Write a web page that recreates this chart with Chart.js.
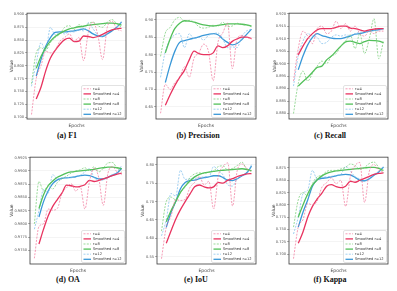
<!DOCTYPE html>
<html><head><meta charset="utf-8">
<script src="https://cdn.jsdelivr.net/npm/chart.js@4.4.0/dist/chart.umd.min.js"></script>
<style>
html,body{margin:0;padding:0;background:#fff;}
body{width:397px;height:291px;position:relative;overflow:hidden;}
canvas{position:absolute;}
.cap{position:absolute;font:bold 8px "Liberation Serif","DejaVu Serif",serif;color:#111;text-align:center;width:132px;line-height:10px;white-space:nowrap;}
</style></head><body>
<script>
const EPOCHS = [1,2,3,4,5,6,7,8,9,10,11,12,13,14,15,16,17,18,19,20];
const SERIES_LABELS = ['r=4','Smoothed r=4','r=8','Smoothed r=8','r=12','Smoothed r=12'];

const F1_TICKS = ['0.700','0.725','0.750','0.775','0.800','0.825','0.850','0.875','0.900'];
const F1_R4  = [0.705,0.775,0.800,0.828,0.825,0.830,0.848,0.855,0.862,0.848,0.855,0.810,0.865,0.885,0.860,0.812,0.875,0.887,0.872,0.868];
const F1_S4  = [null,0.735,0.758,0.790,0.815,0.830,0.842,0.851,0.854,0.847,0.848,0.858,0.857,0.855,0.857,0.861,0.866,0.870,0.872,0.873];
const F1_R8  = [0.765,0.825,0.835,0.830,0.845,0.855,0.862,0.875,0.878,0.870,0.880,0.876,0.882,0.885,0.878,0.875,0.885,0.890,0.882,0.875];
const F1_S8  = [null,0.795,0.818,0.835,0.848,0.857,0.863,0.868,0.872,0.874,0.876,0.877,0.879,0.880,0.881,0.882,0.883,0.883,0.882,0.879];
const F1_R12 = [0.760,0.805,0.845,0.830,0.875,0.860,0.865,0.862,0.866,0.866,0.870,0.868,0.884,0.872,0.860,0.857,0.865,0.870,0.875,0.887];
const F1_S12 = [null,0.780,0.812,0.838,0.855,0.865,0.866,0.866,0.867,0.868,0.870,0.872,0.868,0.862,0.858,0.857,0.862,0.868,0.875,0.885];

const P_TICKS = ['0.65','0.70','0.75','0.80','0.85','0.90'];
const P_R4  = [0.632,0.715,0.700,0.720,0.735,0.765,0.735,0.790,0.805,0.830,0.810,0.725,0.835,0.862,0.890,0.760,0.845,0.855,0.850,0.845];
const P_S4  = [null,0.655,0.685,0.712,0.735,0.755,0.785,0.810,0.803,0.800,0.800,0.805,0.825,0.820,0.825,0.838,0.845,0.850,0.850,0.846];
const P_R8  = [0.795,0.862,0.878,0.900,0.907,0.895,0.898,0.893,0.880,0.876,0.878,0.884,0.882,0.893,0.880,0.882,0.890,0.886,0.884,0.880];
const P_S8  = [null,0.805,0.845,0.875,0.890,0.897,0.896,0.893,0.889,0.885,0.883,0.882,0.884,0.886,0.888,0.888,0.888,0.887,0.885,0.882];
const P_R12 = [0.735,0.810,0.842,0.857,0.860,0.820,0.860,0.845,0.850,0.842,0.855,0.860,0.862,0.845,0.820,0.822,0.820,0.852,0.868,0.872];
const P_S12 = [null,0.720,0.770,0.810,0.835,0.840,0.844,0.847,0.851,0.855,0.858,0.860,0.857,0.845,0.835,0.828,0.832,0.843,0.858,0.873];

const R_TICKS = ['0.880','0.885','0.890','0.895','0.900','0.905','0.910','0.915','0.920'];
const R_R4  = [0.893,0.906,0.913,0.911,0.908,0.914,0.915,0.912,0.913,0.917,0.914,0.916,0.913,0.915,0.912,0.911,0.913,0.912,0.913,0.913];
const R_S4  = [null,0.9035,0.907,0.910,0.912,0.9135,0.914,0.914,0.914,0.9145,0.915,0.915,0.9142,0.914,0.9135,0.913,0.9135,0.9138,0.914,0.914];
const R_R8  = [0.880,0.892,0.897,0.893,0.896,0.899,0.901,0.900,0.903,0.904,0.907,0.909,0.9115,0.906,0.912,0.904,0.910,0.918,0.902,0.909];
const R_S8  = [null,0.891,0.8928,0.8945,0.8965,0.8985,0.899,0.9015,0.903,0.905,0.907,0.9087,0.909,0.9085,0.908,0.9088,0.9093,0.9092,0.909,0.9084];
const R_R12 = [0.891,0.903,0.909,0.912,0.911,0.9105,0.908,0.9085,0.9105,0.9115,0.911,0.9115,0.9112,0.912,0.9125,0.9128,0.913,0.9132,0.9134,0.9138];
const R_S12 = [null,0.8975,0.903,0.9075,0.9105,0.912,0.9112,0.9107,0.9102,0.910,0.910,0.9105,0.911,0.9118,0.912,0.9125,0.913,0.9133,0.9136,0.914];

const OA_TICKS = ['0.9750','0.9775','0.9800','0.9825','0.9850','0.9875','0.9900','0.9925'];
const OA_R4  = [0.9735,0.9795,0.9800,0.9828,0.9826,0.9829,0.9858,0.9868,0.9876,0.9862,0.9870,0.9828,0.9880,0.9905,0.9888,0.9835,0.9895,0.9908,0.9898,0.9893];
const OA_S4  = [null,0.9762,0.9790,0.9815,0.9833,0.9846,0.9858,0.9873,0.9872,0.9870,0.9871,0.9874,0.9882,0.9880,0.9882,0.9885,0.9888,0.9891,0.9894,0.9896];
const OA_R8  = [0.9800,0.9880,0.9862,0.9872,0.9866,0.9878,0.9885,0.9890,0.9896,0.9900,0.9902,0.9906,0.9900,0.9908,0.9898,0.9905,0.9915,0.9916,0.9905,0.9898];
const OA_S8  = [null,0.9829,0.9855,0.9872,0.9881,0.9888,0.9892,0.9896,0.9898,0.9899,0.9900,0.9901,0.9902,0.9903,0.9905,0.9906,0.9907,0.9907,0.9906,0.9904];
const OA_R12 = [0.9790,0.9825,0.9865,0.9858,0.9893,0.9885,0.9887,0.9888,0.9887,0.9890,0.9892,0.9898,0.9904,0.9888,0.9882,0.9883,0.9888,0.9893,0.9897,0.9910];
const OA_S12 = [null,0.9813,0.9842,0.9862,0.9876,0.9883,0.9886,0.9887,0.9888,0.9889,0.9891,0.9892,0.9891,0.9888,0.9885,0.9885,0.9888,0.9892,0.9896,0.9905];

const IOU_TICKS = ['0.55','0.60','0.65','0.70','0.75','0.80'];
const IOU_R4  = [0.545,0.630,0.660,0.705,0.703,0.706,0.738,0.752,0.768,0.745,0.755,0.680,0.770,0.795,0.805,0.688,0.785,0.802,0.790,0.780];
const IOU_S4  = [null,0.587,0.620,0.652,0.678,0.700,0.720,0.740,0.745,0.740,0.737,0.740,0.752,0.750,0.758,0.762,0.768,0.772,0.775,0.776];
const IOU_R8  = [0.620,0.700,0.712,0.705,0.725,0.740,0.765,0.775,0.778,0.776,0.780,0.783,0.795,0.797,0.785,0.790,0.798,0.807,0.788,0.785];
const IOU_S8  = [null,0.645,0.675,0.700,0.725,0.742,0.756,0.767,0.774,0.778,0.780,0.782,0.784,0.785,0.786,0.787,0.788,0.789,0.787,0.783];
const IOU_R12 = [0.607,0.650,0.722,0.715,0.785,0.760,0.762,0.763,0.765,0.767,0.767,0.795,0.785,0.772,0.745,0.742,0.762,0.770,0.775,0.800];
const IOU_S12 = [null,0.630,0.670,0.700,0.735,0.752,0.757,0.758,0.762,0.765,0.767,0.770,0.770,0.765,0.758,0.757,0.762,0.770,0.778,0.796];

const K_TICKS = ['0.700','0.725','0.750','0.775','0.800','0.825','0.850','0.875'];
const K_R4  = [0.691,0.755,0.770,0.803,0.800,0.808,0.836,0.845,0.855,0.843,0.850,0.797,0.858,0.880,0.886,0.805,0.868,0.882,0.870,0.866];
const K_S4  = [null,0.722,0.745,0.775,0.797,0.812,0.824,0.838,0.841,0.837,0.835,0.838,0.848,0.846,0.850,0.854,0.858,0.862,0.864,0.865];
const K_R8  = [0.755,0.810,0.825,0.818,0.843,0.857,0.860,0.868,0.870,0.870,0.873,0.876,0.883,0.880,0.872,0.876,0.884,0.887,0.876,0.866];
const K_S8  = [null,0.775,0.800,0.822,0.840,0.851,0.859,0.864,0.867,0.869,0.870,0.871,0.872,0.873,0.874,0.875,0.876,0.876,0.874,0.870];
const K_R12 = [0.741,0.775,0.823,0.830,0.870,0.852,0.856,0.857,0.858,0.860,0.862,0.878,0.869,0.857,0.853,0.848,0.852,0.862,0.868,0.878];
const K_S12 = [null,0.755,0.785,0.810,0.838,0.851,0.854,0.855,0.857,0.859,0.861,0.862,0.861,0.856,0.850,0.849,0.853,0.860,0.867,0.877];

const STYLES = [
  {c:'rgba(240,110,148,0.85)', w:0.8, dash:[2,1.3], t:0},
  {c:'#e8335f', w:1.3, dash:[], t:0.3},
  {c:'rgba(105,200,105,0.85)', w:0.8, dash:[2,1.3], t:0},
  {c:'#52c05a', w:1.3, dash:[], t:0.3},
  {c:'rgba(125,190,235,0.9)', w:0.8, dash:[2,1.3], t:0},
  {c:'#3a98d8', w:1.3, dash:[], t:0.3}
];

const PANELS = [
  {cap:'(a) F1', series:[F1_R4,F1_S4,F1_R8,F1_S8,F1_R12,F1_S12], ticks:F1_TICKS, min:0.6962, max:0.9025, L:27, R:126, T:11, B:119, yW:18, cx:67, cy:136},
  {cap:'(b) Precision', series:[P_R4,P_S4,P_R8,P_S8,P_R12,P_S12], ticks:P_TICKS, min:0.6155, max:0.9188, L:156, R:256, T:11, B:119, yW:17, cx:198, cy:136},
  {cap:'(c) Recall', series:[R_R4,R_S4,R_R8,R_S8,R_R12,R_S12], ticks:R_TICKS, min:0.8778, max:0.9202, L:289, R:388, T:11, B:119, yW:17, cx:330, cy:136},
  {cap:'(d) OA', series:[OA_R4,OA_S4,OA_R8,OA_S8,OA_R12,OA_S12], ticks:OA_TICKS, min:0.97242, max:0.9926, L:30, R:126, T:155, B:264, yW:21, cx:68, cy:280},
  {cap:'(e) IoU', series:[IOU_R4,IOU_S4,IOU_R8,IOU_S8,IOU_R12,IOU_S12], ticks:IOU_TICKS, min:0.5306, max:0.8205, L:157, R:256, T:155, B:264, yW:17, cx:196, cy:280},
  {cap:'(f) Kappa', series:[K_R4,K_S4,K_R8,K_S8,K_R12,K_S12], ticks:K_TICKS, min:0.6801, max:0.8969, L:289, R:388, T:155, B:264, yW:18, cx:330, cy:280}
];

const framePlugin = {
  id:'frame',
  afterDatasetsDraw(chart){
    const a = chart.chartArea, ctx = chart.ctx;
    ctx.save(); ctx.strokeStyle='#3a3a3a'; ctx.lineWidth=0.8;
    ctx.strokeRect(a.left, a.top, a.right-a.left, a.bottom-a.top);
    ctx.restore();
  }
};
const legendPlugin = {
  id:'insideLegend',
  afterDraw(chart){
    const a = chart.chartArea, ctx = chart.ctx;
    const w = 43, h = 32;
    const x0 = a.right - w - 1.5, y0 = a.bottom - h - 1.5;
    ctx.save();
    ctx.fillStyle='rgba(255,255,255,0.9)';
    ctx.strokeStyle='#cfcfcf'; ctx.lineWidth=0.6;
    ctx.beginPath(); ctx.roundRect(x0,y0,w,h,1.5); ctx.fill(); ctx.stroke();
    ctx.font='3.6px "DejaVu Sans"'; ctx.textBaseline='middle';
    chart.data.datasets.forEach((ds,i)=>{
      const y = y0 + 3.3 + i*5.1;
      ctx.strokeStyle=ds.borderColor; ctx.lineWidth=ds.borderWidth; ctx.setLineDash(ds.borderDash||[]);
      ctx.beginPath(); ctx.moveTo(x0+2,y); ctx.lineTo(x0+9.5,y); ctx.stroke();
      ctx.setLineDash([]);
      ctx.fillStyle='#333'; ctx.fillText(ds.label, x0+11.5, y);
    });
    ctx.restore();
  }
};

PANELS.forEach(p=>{
  const cv = document.createElement('canvas');
  const left = p.L - p.yW, top = p.T - 1;
  const W = p.R + 1 - left, H = p.B - p.T + 1 + 10;
  cv.width = W; cv.height = H;
  cv.style.left = left+'px'; cv.style.top = top+'px';
  cv.style.width = W+'px'; cv.style.height = H+'px';
  document.body.appendChild(cv);
  const tickVals = p.ticks.map(Number);
  new Chart(cv.getContext('2d'), {
    type:'line',
    data:{
      datasets: p.series.map((arr,i)=>({
        label: SERIES_LABELS[i],
        data: EPOCHS.map((e,k)=>({x:e, y:arr[k]})),
        borderColor: STYLES[i].c, borderWidth: STYLES[i].w, borderDash: STYLES[i].dash,
        pointRadius:0, tension:STYLES[i].t, cubicInterpolationMode:'monotone', fill:false, spanGaps:false
      }))
    },
    options:{
      responsive:false, animation:false, devicePixelRatio:1,
      layout:{padding:{top:1,right:1,left:0,bottom:0}},
      plugins:{legend:{display:false}, tooltip:{enabled:false}},
      scales:{
        x:{type:'linear', min:0.05, max:20.95,
           ticks:{display:false}, grid:{display:false}, border:{display:false},
           title:{display:true, text:'Epochs', color:'#444', font:{size:4.5, family:'DejaVu Sans'}, padding:{top:1.5,bottom:0}},
           afterFit:s=>{s.height=10;}},
        y:{type:'linear', min:p.min, max:p.max,
           afterBuildTicks:s=>{s.ticks = tickVals.map(v=>({value:v}));},
           ticks:{autoSkip:false, color:'#555', font:{size:3.6, family:'DejaVu Sans'}, padding:1,
                  callback:(v,i)=>p.ticks[i]},
           grid:{color:'#e8e8e8', lineWidth:0.5, tickLength:2, tickColor:'#666', tickWidth:0.5},
           border:{display:false},
           title:{display:true, text:'Value', color:'#444', font:{size:4.5, family:'DejaVu Sans'}, padding:0},
           afterFit:s=>{s.width=p.yW;}}
      }
    },
    plugins:[framePlugin, legendPlugin]
  });
  const cap = document.createElement('div');
  cap.className='cap'; cap.textContent=p.cap;
  cap.style.left=(p.cx-66)+'px'; cap.style.top=(p.cy-5)+'px';
  document.body.appendChild(cap);
});
</script>
</body></html>
